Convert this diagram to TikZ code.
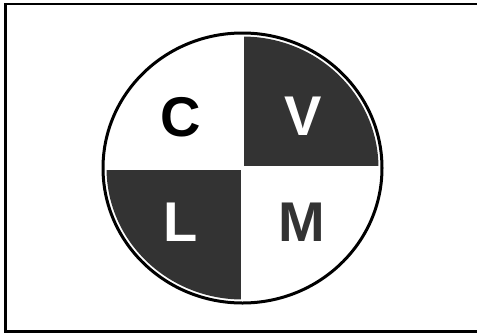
\documentclass[tikz,border=0pt]{standalone}
\usepackage{fontspec}
\setmainfont{Liberation Sans}
\definecolor{darkq}{HTML}{333333}
\begin{document}
\begin{tikzpicture}[x=1pt,y=-1pt,
  letter/.style={inner sep=0pt,font=\fontsize{56}{60}\selectfont\bfseries},
  frameline/.style={line width=2.5pt,black}]
\useasboundingbox (0,0) rectangle (477,333);
\fill[white] (0,0) rectangle (477,333);
\draw[frameline] (480,4) -- (5.5,4) -- (5.5,331.5) -- (480,331.5);
\coordinate (o) at (242.5,168);
\begin{scope}
  \clip (o) ellipse [x radius=136pt, y radius=131.5pt];
  \fill[darkq] (244,0) rectangle (400,166);
  \fill[darkq] (90,170) rectangle (241,320);
\end{scope}
\draw[line width=3pt] (o) ellipse [x radius=139.5pt, y radius=135pt];
\node[letter,text=black] (c) at (181,117) {C};
\node[letter,text=white] (v) at (303,116) {V};
\node[letter,text=white] (l) at (181,222) {L};
\node[letter,text=darkq] (m) at (302,222) {M};
\end{tikzpicture}
\end{document}
